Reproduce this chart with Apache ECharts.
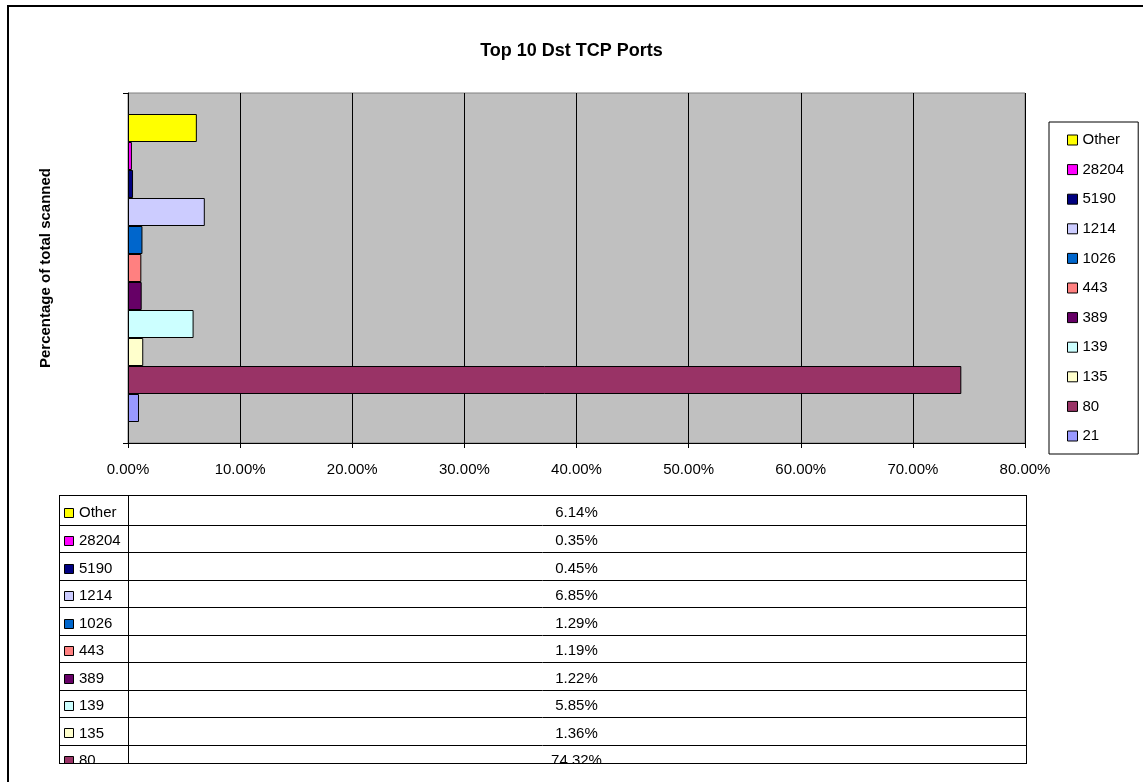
<!DOCTYPE html>
<html>
<head>
<meta charset="utf-8">
<script src="https://cdn.jsdelivr.net/npm/echarts@6.0.0/dist/echarts.min.js"></script>
<style>
  html, body { margin: 0; padding: 0; background: #fff; }
  #chart { width: 1143px; height: 782px; }
</style>
</head>
<body>
<div id="chart"></div>
<script>
// Destination ports, bottom bar first
const ports  = ['21', '80', '135', '139', '389', '443', '1026', '1214', '5190', '28204', 'Other'];
// Share of all scanned packets, in percent
const shares = [0.98, 74.32, 1.36, 5.85, 1.22, 1.19, 1.29, 6.85, 0.45, 0.35, 6.14];
const colors = ['#9999FF', '#993366', '#FFFFCC', '#CCFFFF', '#660066', '#FF8080',
                '#0066CC', '#CCCCFF', '#000080', '#FF00FF', '#FFFF00'];
const xTicks = [0, 10, 20, 30, 40, 50, 60, 70, 80];

const FONT = '"Liberation Sans", Arial, sans-serif';
const plotLeft = 128, plotRight = 1025;

// Legend, bars and data table run top to bottom
const topDown = ports.slice().reverse();

const series = topDown.map(p => {
  const i = ports.indexOf(p);
  return {
    name: p,
    type: 'bar',
    data: [shares[i]],
    barWidth: 28,
    barGap: '0%',
    itemStyle: { color: colors[i], borderColor: '#000', borderWidth: 1 }
  };
});

// Data table beneath the plot
const table = [];
const tTop = 495, firstRowBottom = 525, rowH = 27.46, tBottom = 763;
const rowBox = i => i === 0 ? [tTop, firstRowBottom]
                            : [firstRowBottom + (i - 1) * rowH, firstRowBottom + i * rowH];
topDown.forEach((p, i) => {
  const idx = ports.indexOf(p);
  const [y0, y1] = rowBox(i);
  const cy = (y0 + y1) / 2 + 2.5;
  if (i > 0) {
    table.push({ type: 'line', shape: { x1: 59, y1: Math.round(y0) + 0.5, x2: plotRight + 1, y2: Math.round(y0) + 0.5 },
                 style: { stroke: '#000', lineWidth: 1 }, z: 10 });
  }
  table.push({ type: 'rect', shape: { x: 64.5, y: Math.round(cy - 5) + 0.5, width: 9, height: 9 },
               style: { fill: colors[idx], stroke: '#000', lineWidth: 1 }, z: 10 });
  table.push({ type: 'text', x: 79, y: cy,
               style: { text: p, fill: '#000', font: '15px ' + FONT, textVerticalAlign: 'middle' }, z: 10 });
  table.push({ type: 'text', x: (plotLeft + plotRight) / 2, y: cy,
               style: { text: shares[idx].toFixed(2) + '%', fill: '#000', font: '15px ' + FONT,
                        textAlign: 'center', textVerticalAlign: 'middle' }, z: 10 });
});
// cut the table off at its lower edge
table.push({ type: 'rect', shape: { x: 15, y: tBottom + 1, width: 1128, height: 40 },
             style: { fill: '#fff' }, z: 11 });
table.push({ type: 'line', shape: { x1: 59.5, y1: tTop + 0.5, x2: 59.5, y2: tBottom + 0.5 }, style: { stroke: '#000', lineWidth: 1 }, z: 12 });
table.push({ type: 'line', shape: { x1: plotLeft + 0.5, y1: tTop + 0.5, x2: plotLeft + 0.5, y2: tBottom + 0.5 }, style: { stroke: '#000', lineWidth: 1 }, z: 12 });
table.push({ type: 'line', shape: { x1: plotRight + 1.5, y1: tTop + 0.5, x2: plotRight + 1.5, y2: tBottom + 0.5 }, style: { stroke: '#000', lineWidth: 1 }, z: 12 });
table.push({ type: 'line', shape: { x1: 59, y1: tTop + 0.5, x2: plotRight + 2, y2: tTop + 0.5 }, style: { stroke: '#000', lineWidth: 1 }, z: 12 });
table.push({ type: 'line', shape: { x1: 59, y1: tBottom + 0.5, x2: plotRight + 2, y2: tBottom + 0.5 }, style: { stroke: '#000', lineWidth: 1 }, z: 12 });

// Chart frame
table.push({ type: 'rect', shape: { x: 8, y: 6, width: 1300, height: 900 },
             style: { fill: 'none', stroke: '#000', lineWidth: 2 }, z: 13, silent: true });

const chart = echarts.init(document.getElementById('chart'), null, { renderer: 'canvas' });
chart.setOption({
  animation: false,
  backgroundColor: '#fff',
  textStyle: { fontFamily: FONT },
  title: {
    text: 'Top 10 Dst TCP Ports',
    left: 'center',
    top: 37,
    textStyle: { fontFamily: FONT, fontSize: 18, fontWeight: 'bold', color: '#000' }
  },
  legend: {
    orient: 'vertical',
    left: 1049,
    top: 122,
    data: topDown,
    icon: 'rect',
    itemWidth: 10,
    itemHeight: 10,
    itemGap: 13.6,
    padding: [10, 14, 10, 18],
    borderColor: '#000',
    borderWidth: 1,
    itemStyle: { borderColor: '#000', borderWidth: 1 },
    textStyle: { fontFamily: FONT, fontSize: 15, color: '#000', lineHeight: 16 }
  },
  grid: {
    left: plotLeft, top: 93, right: 1143 - plotRight, bottom: 782 - 443,
    show: true, backgroundColor: '#C0C0C0', borderColor: '#808080', borderWidth: 1
  },
  xAxis: {
    type: 'value',
    min: xTicks[0],
    max: xTicks[xTicks.length - 1],
    interval: xTicks[1] - xTicks[0],
    axisLine: { show: true, lineStyle: { color: '#000', width: 1 } },
    axisTick: { show: true, length: 5, lineStyle: { color: '#000' } },
    splitLine: { show: true, lineStyle: { color: '#000', width: 1 } },
    axisLabel: { formatter: v => v.toFixed(2) + '%', fontFamily: FONT, fontSize: 15, color: '#000', margin: 19 }
  },
  yAxis: {
    type: 'category',
    data: [''],
    name: 'Percentage of total scanned',
    nameLocation: 'middle',
    nameRotate: 90,
    nameGap: 75,
    nameTextStyle: { fontFamily: FONT, fontSize: 15, fontWeight: 'bold', color: '#000' },
    axisLine: { show: true, lineStyle: { color: '#000', width: 1 } },
    axisTick: { show: true, length: 5, lineStyle: { color: '#000' } },
    axisLabel: { show: false },
    splitLine: { show: false }
  },
  series: series,
  graphic: table
});
</script>
</body>
</html>
